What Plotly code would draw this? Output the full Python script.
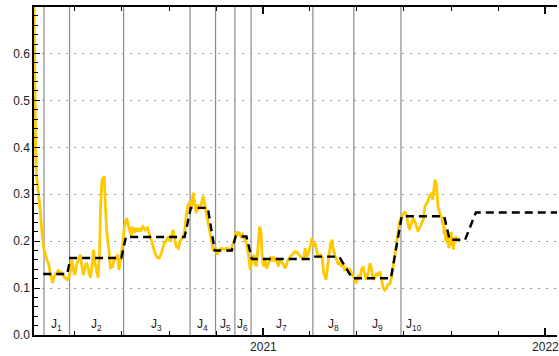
import pandas as pd
import plotly.graph_objects as go

START = pd.Timestamp("2020-03-10")

# Observed ratio: days since START and value
obs_day = [
    0, 1, 2, 3, 4, 6, 8, 10, 12, 16, 19, 21, 24, 26, 29, 32, 34, 36, 38, 40,
    43, 46, 48, 49, 51, 53, 55, 58, 60, 62, 64, 66, 68, 70, 73, 75, 77, 79, 81, 83,
    85, 86, 88, 91, 92, 94, 97, 99, 102, 104, 106, 108, 110, 112, 115, 117, 120, 123, 126, 127,
    130, 132, 134, 136, 138, 141, 144, 147, 150, 153, 156, 159, 162, 165, 168, 172, 174, 176, 178, 180,
    182, 184, 187, 189, 192, 195, 197, 199, 202, 204, 206, 208, 210, 212, 214, 217, 219, 221, 223, 225,
    227, 230, 232, 235, 237, 240, 243, 246, 249, 251, 253, 255, 257, 260, 262, 264, 266, 268, 270, 273,
    275, 277, 279, 280, 282, 285, 286, 288, 290, 292, 294, 295, 297, 299, 301, 303, 306, 308, 310, 312,
    314, 316, 318, 321, 323, 325, 327, 329, 332, 334, 336, 338, 341, 343, 345, 347, 349, 351, 353, 356,
    358, 360, 362, 364, 366, 368, 371, 373, 375, 378, 380, 382, 384, 386, 387, 390, 392, 394, 396, 398,
    400, 402, 405, 407, 409, 411, 413, 415, 417, 420, 422, 424, 426, 428, 430, 432, 435, 437, 439, 441,
    443, 445, 448, 450, 452, 454, 456, 458, 461, 463, 465, 467, 469, 471, 473, 475, 478, 480, 482, 484,
    486, 488, 491, 493, 495, 497, 499, 501, 504, 506, 508, 510, 512, 515, 516, 518, 519, 521, 523, 525,
    527, 528, 529, 530, 531, 532, 533, 534, 535, 536, 537, 538, 539, 540, 541, 542, 543, 544, 545, 546,
    547, 548, 549,
]
obs_val = [
    0.72, 0.50, 0.40, 0.345, 0.33, 0.31, 0.267, 0.224, 0.189, 0.164, 0.15, 0.132, 0.111, 0.125, 0.132, 0.139, 0.128, 0.132, 0.126, 0.122,
    0.118, 0.125, 0.143, 0.160, 0.139, 0.128, 0.150, 0.164, 0.171, 0.146, 0.128, 0.143, 0.154, 0.143, 0.122, 0.146, 0.182, 0.154, 0.139, 0.122,
    0.182, 0.267, 0.331, 0.338, 0.288, 0.224, 0.182, 0.143, 0.146, 0.167, 0.160, 0.171, 0.139, 0.160, 0.196, 0.231, 0.249, 0.228, 0.21, 0.231,
    0.218, 0.228, 0.221, 0.228, 0.221, 0.231, 0.224, 0.228, 0.214, 0.196, 0.178, 0.166, 0.164, 0.175, 0.192, 0.203, 0.21, 0.199, 0.21, 0.224,
    0.207, 0.189, 0.185, 0.199, 0.207, 0.221, 0.253, 0.274, 0.285, 0.274, 0.303, 0.285, 0.26, 0.278, 0.267, 0.281, 0.296, 0.278, 0.26, 0.246,
    0.221, 0.196, 0.182, 0.185, 0.171, 0.182, 0.185, 0.182, 0.185, 0.18, 0.185, 0.178, 0.192, 0.203, 0.221, 0.214, 0.217, 0.21, 0.214, 0.203,
    0.196, 0.178, 0.157, 0.139, 0.160, 0.171, 0.153, 0.146, 0.189, 0.231, 0.217, 0.175, 0.146, 0.160, 0.142, 0.150, 0.167, 0.157, 0.167, 0.157,
    0.164, 0.146, 0.160, 0.153, 0.150, 0.142, 0.150, 0.160, 0.167, 0.171, 0.175, 0.178, 0.175, 0.171, 0.167, 0.164, 0.160, 0.185, 0.167, 0.178,
    0.192, 0.207, 0.189, 0.196, 0.178, 0.167, 0.171, 0.164, 0.132, 0.118, 0.146, 0.175, 0.196, 0.203, 0.185, 0.167, 0.157, 0.150, 0.157, 0.146,
    0.150, 0.139, 0.142, 0.135, 0.139, 0.132, 0.128, 0.118, 0.110, 0.128, 0.121, 0.139, 0.146, 0.128, 0.118, 0.128, 0.153, 0.139, 0.118, 0.121,
    0.132, 0.128, 0.135, 0.118, 0.100, 0.096, 0.100, 0.107, 0.110, 0.125, 0.142, 0.167, 0.192, 0.217, 0.239, 0.249, 0.256, 0.263, 0.255, 0.239,
    0.224, 0.235, 0.249, 0.242, 0.231, 0.221, 0.228, 0.235, 0.246, 0.274, 0.281, 0.285, 0.296, 0.303, 0.288, 0.317, 0.331, 0.321, 0.274, 0.26,
    0.253, 0.25, 0.235, 0.245, 0.215, 0.228, 0.200, 0.225, 0.195, 0.215, 0.185, 0.212, 0.198, 0.220, 0.190, 0.208, 0.182, 0.205, 0.196, 0.210,
    0.200, 0.205, 0.200,
]

# Piecewise-constant fitted level (dashed): days since START and level
fit_day = [12, 43, 47, 113, 119, 195, 203, 225, 234, 256, 261, 275, 282, 357, 362,
           395, 412, 462, 476, 531, 538, 558, 572, 700]
fit_val = [0.130, 0.130, 0.164, 0.164, 0.209, 0.209, 0.271, 0.271, 0.180, 0.180, 0.210, 0.210,
           0.162, 0.162, 0.167, 0.167, 0.121, 0.121, 0.253, 0.253, 0.203, 0.203, 0.261, 0.261]

# Regime boundaries (days since START); the last entry closes J10
period_day = [13, 46, 116, 202, 235, 260, 281, 361, 414, 475, 509]
period_name = [f"J<sub>{k}</sub>" for k in range(1, 11)]

# Axis ticks
y_ticks = [0.0, 0.1, 0.2, 0.3, 0.4, 0.5, 0.6]


def to_date(days):
    return [START + pd.Timedelta(days=float(d)) for d in days]


fig = go.Figure()

fig.add_trace(go.Scatter(
    x=to_date(obs_day), y=obs_val, mode="lines",
    line=dict(color="#FFC800", width=2.8), hoverinfo="skip",
))
fig.add_trace(go.Scatter(
    x=to_date(fit_day), y=fit_val, mode="lines",
    line=dict(color="black", width=2.4, dash="8px,5px"), hoverinfo="skip",
))

# vertical regime separators
for d in to_date(period_day[:-1]):
    fig.add_shape(type="line", xref="x", yref="paper", x0=d, x1=d, y0=0, y1=1,
                  line=dict(color="#8c8c8c", width=1.2), layer="below")

# regime labels, centred in each interval
mids = [(a + b) / 2 for a, b in zip(period_day[:-1], period_day[1:])]
for m, name in zip(to_date(mids), period_name):
    fig.add_annotation(x=m, y=0.022, xref="x", yref="y", text=name, showarrow=False,
                       font=dict(family="Liberation Sans, Arial", size=12, color="#222"),
                       yanchor="middle", xanchor="center")

fig.update_layout(
    width=559, height=356,
    margin=dict(l=34, r=0, t=7, b=21),
    plot_bgcolor="white", paper_bgcolor="white",
    showlegend=False,
    font=dict(family="Liberation Sans, Arial", size=12, color="#222"),
    xaxis=dict(
        type="date",
        range=[START, START + pd.Timedelta(days=677)],
        showline=True, linecolor="black", linewidth=1.5, mirror="ticks",
        ticks="inside", ticklen=7, tickwidth=2, tickcolor="black",
        tick0="2021-01-01", dtick="M12", tickformat="%Y",
        ticklabeloverflow="allow",
        showgrid=False, zeroline=False,
        minor=dict(dtick="M2", tick0="2021-01-01", ticks="inside", ticklen=4,
                   tickwidth=1, tickcolor="black", showgrid=False),
        tickfont=dict(size=12, color="#222"),
    ),
    yaxis=dict(
        range=[0, 0.699],
        tickvals=y_ticks, tickformat=".1f",
        showline=True, linecolor="black", linewidth=1.5,
        ticks="inside", ticklen=6, tickwidth=1, tickcolor="black",
        showgrid=True, gridcolor="#999", gridwidth=1, griddash="2px,6px",
        zeroline=False,
        minor=dict(dtick=0.02, ticks="inside", ticklen=4, tickwidth=1,
                   tickcolor="black", showgrid=False),
        tickfont=dict(size=12, color="#222"),
    ),
)

fig.write_html("out.html")
